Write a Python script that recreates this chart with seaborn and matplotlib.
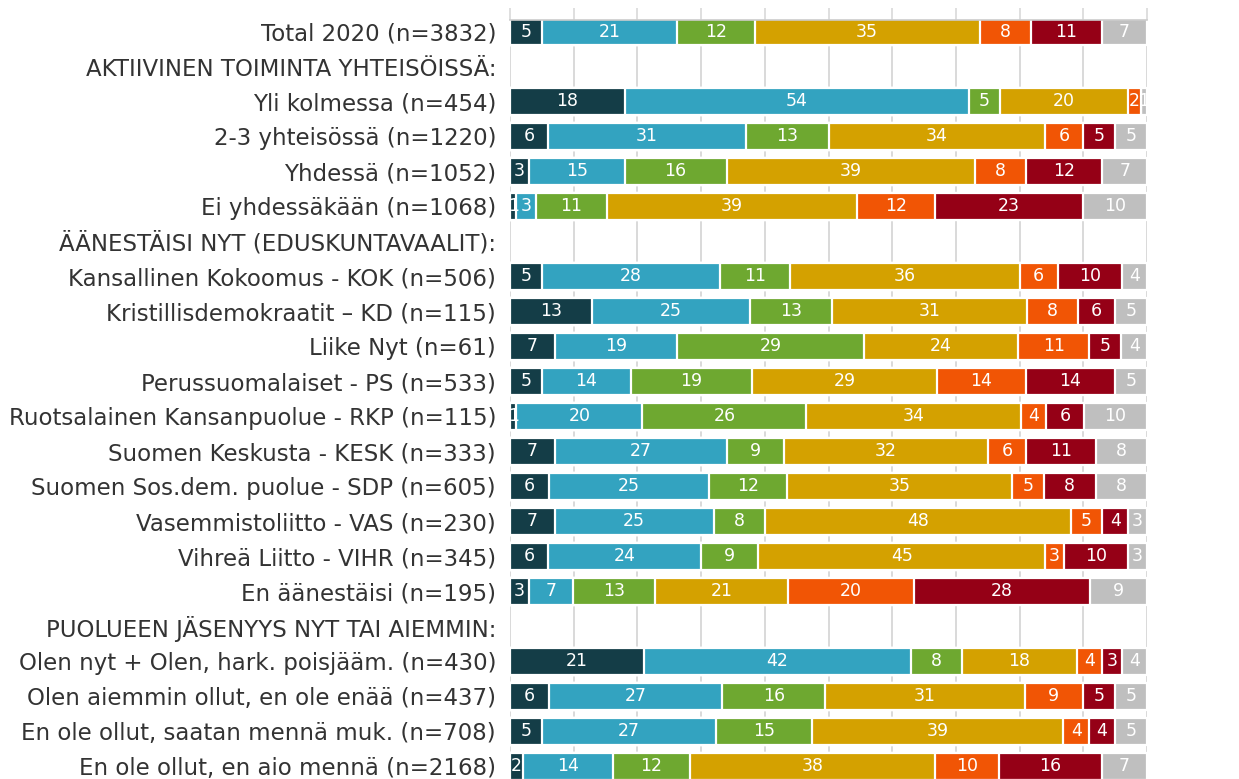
import matplotlib
matplotlib.use("Agg")
import matplotlib.pyplot as plt
import seaborn as sns
import numpy as np
import pandas as pd

# row labels, top to bottom (headers have no bar)
rows = [
    "Total 2020 (n=3832)",
    "AKTIIVINEN TOIMINTA YHTEISÖISSÄ:",
    "Yli kolmessa (n=454)",
    "2-3 yhteisössä (n=1220)",
    "Yhdessä (n=1052)",
    "Ei yhdessäkään (n=1068)",
    "ÄÄNESTÄISI NYT (EDUSKUNTAVAALIT):",
    "Kansallinen Kokoomus - KOK (n=506)",
    "Kristillisdemokraatit – KD (n=115)",
    "Liike Nyt (n=61)",
    "Perussuomalaiset - PS (n=533)",
    "Ruotsalainen Kansanpuolue - RKP (n=115)",
    "Suomen Keskusta - KESK (n=333)",
    "Suomen Sos.dem. puolue - SDP (n=605)",
    "Vasemmistoliitto - VAS (n=230)",
    "Vihreä Liitto - VIHR (n=345)",
    "En äänestäisi (n=195)",
    "PUOLUEEN JÄSENYYS NYT TAI AIEMMIN:",
    "Olen nyt + Olen, hark. poisjääm. (n=430)",
    "Olen aiemmin ollut, en ole enää (n=437)",
    "En ole ollut, saatan mennä muk. (n=708)",
    "En ole ollut, en aio mennä (n=2168)",
]

# seven answer categories, left to right (None = header row)
s1 = [5, None, 18, 6, 3, 1, None, 5, 13, 7, 5, 1, 7, 6, 7, 6, 3, None, 21, 6, 5, 2]
s2 = [21, None, 54, 31, 15, 3, None, 28, 25, 19, 14, 20, 27, 25, 25, 24, 7, None, 42, 27, 27, 14]
s3 = [12, None, 5, 13, 16, 11, None, 11, 13, 29, 19, 26, 9, 12, 8, 9, 13, None, 8, 16, 15, 12]
s4 = [35, None, 20, 34, 39, 39, None, 36, 31, 24, 29, 34, 32, 35, 48, 45, 21, None, 18, 31, 39, 38]
s5 = [8, None, 2, 6, 8, 12, None, 6, 8, 11, 14, 4, 6, 5, 5, 3, 20, None, 4, 9, 4, 10]
s6 = [11, None, 0, 5, 12, 23, None, 10, 6, 5, 14, 6, 11, 8, 4, 10, 28, None, 3, 5, 4, 16]
s7 = [7, None, 1, 5, 7, 10, None, 4, 5, 4, 5, 10, 8, 8, 3, 3, 9, None, 4, 5, 5, 7]

colors = ["#143d47", "#33a3c0", "#6ea830", "#d4a100", "#f15505", "#950016", "#bfbfbf"]

vals = pd.DataFrame({"s1": s1, "s2": s2, "s3": s3, "s4": s4,
                     "s5": s5, "s6": s6, "s7": s7}, dtype=float)
vals.index = rows
# bars fill the full width, so scale each row to 100
share = vals.div(vals.sum(axis=1), axis=0) * 100
cum = share.cumsum(axis=1)

sns.set_style("white")
plt.rcParams["font.family"] = ["DejaVu Sans"]

fig = plt.figure(figsize=(12.39, 7.79), dpi=100)
ax = fig.add_axes([510 / 1239, 0.0, 637 / 1239, (779 - 20) / 779])

# draw cumulative bars from the longest to the shortest so they stack
for i in range(6, -1, -1):
    col = cum.columns[i]
    sns.barplot(x=cum[col].values, y=rows, order=rows, orient="h",
                color=colors[i], saturation=1, width=0.77,
                edgecolor="white", linewidth=1.6, errorbar=None, ax=ax)

# value labels in the middle of each segment
for j, r in enumerate(rows):
    for i, col in enumerate(vals.columns):
        v = vals.loc[r, col]
        if np.isnan(v) or v == 0:
            continue
        mid = cum.loc[r, col] - share.loc[r, col] / 2
        ax.text(mid, j, f"{int(v)}", ha="center", va="center",
                color="white", fontsize=12.5)

ax.set_xlim(0, 100)
ax.set_ylim(21.37, -0.33)
ax.set_xticks(np.arange(0, 101, 10))
ax.xaxis.tick_top()
ax.tick_params(axis="x", top=True, labeltop=False, length=8.5,
               width=1.2, color="#d9d9d9")
ax.tick_params(axis="y", length=0, pad=10, labelsize=16.5, labelcolor="#333333")
ax.grid(axis="x", color="#d9d9d9", linewidth=1.4)
ax.set_axisbelow(True)
for side in ["left", "right", "bottom"]:
    ax.spines[side].set_visible(False)
ax.spines["top"].set_color("#cccccc")
ax.spines["top"].set_linewidth(1.2)
ax.set_xlabel("")
ax.set_ylabel("")

fig.savefig("out.png", dpi=100)
